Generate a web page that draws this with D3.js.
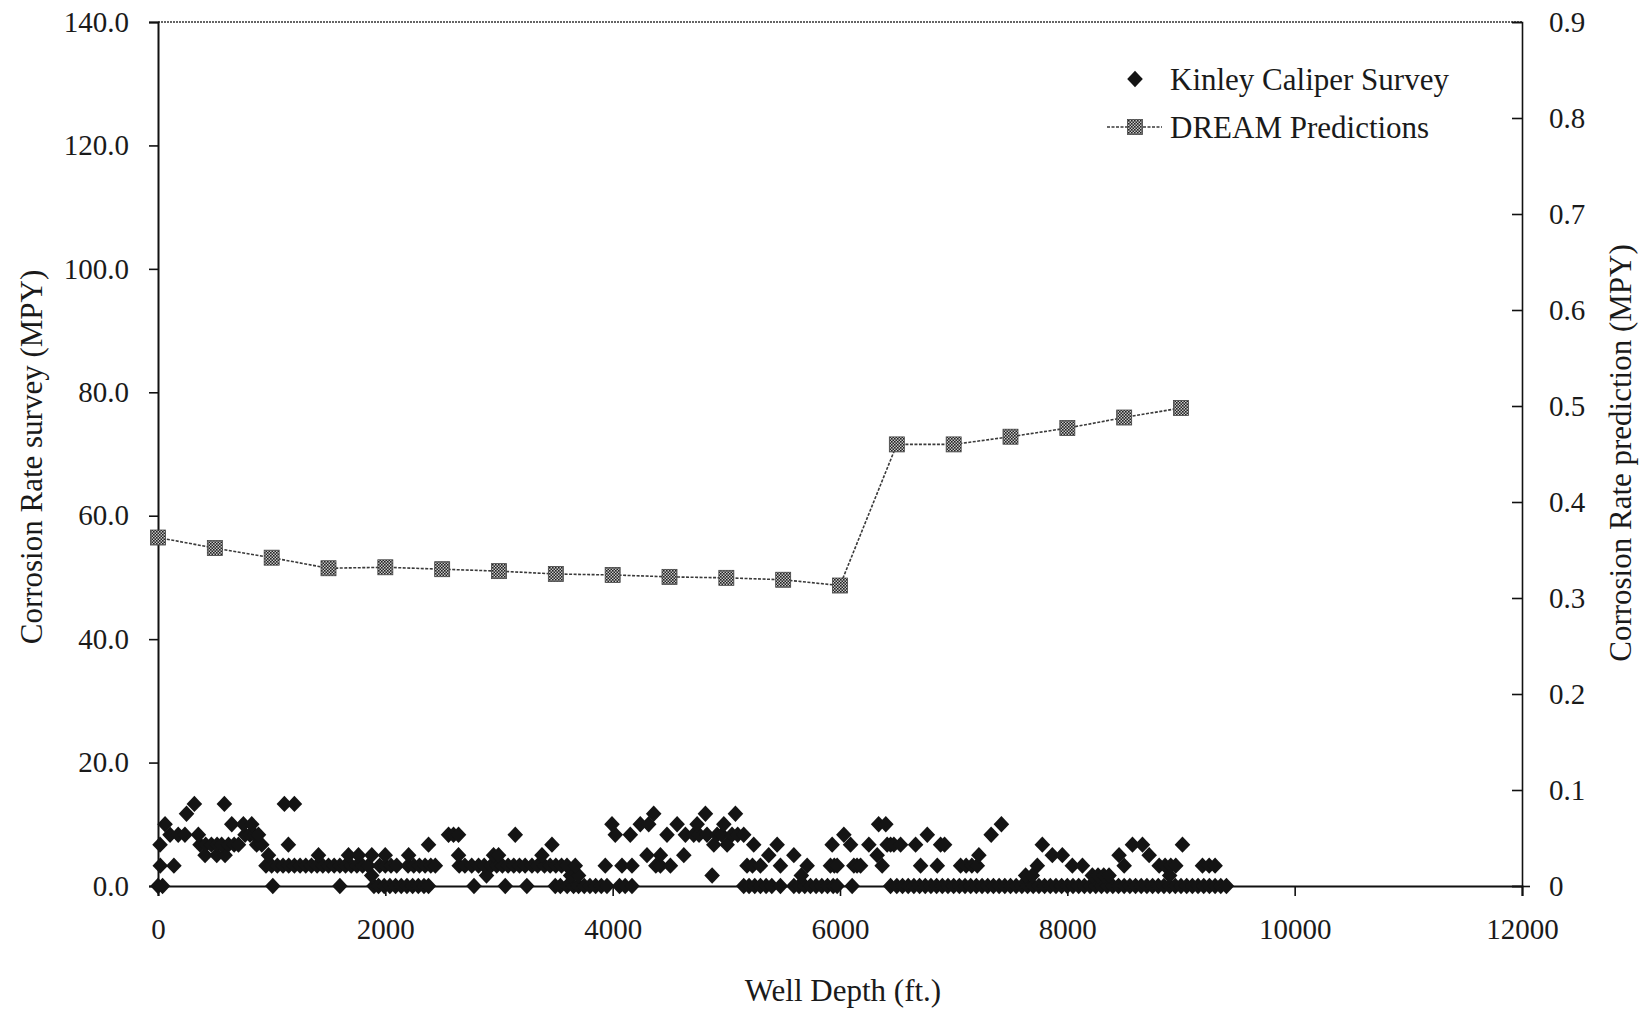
<!DOCTYPE html>
<html>
<head>
<meta charset="utf-8">
<script src="https://cdn.jsdelivr.net/npm/d3@7"></script>
<style>
  html, body { margin: 0; padding: 0; background: #fff; }
  svg { display: block; }
  text { font-family: "Liberation Serif", "Times New Roman", serif; fill: #1a1a1a; }
</style>
</head>
<body>
<svg id="chart" width="1643" height="1012"></svg>
<script>
// ---------------- DATA ----------------
const xTicks = [0, 2000, 4000, 6000, 8000, 10000, 12000];
const leftTicks = [0, 20, 40, 60, 80, 100, 120, 140];
const rightTicks = [0, 0.1, 0.2, 0.3, 0.4, 0.5, 0.6, 0.7, 0.8, 0.9];

// DREAM predictions (right axis, MPY)
const dreamDepth = [0, 500, 1000, 1500, 2000, 2500, 3000, 3500, 4000, 4500, 5000, 5500, 6000,
                    6500, 7000, 7500, 8000, 8500, 9000];
const dreamRate = [0.363, 0.352, 0.342, 0.331, 0.332, 0.330, 0.328, 0.325, 0.324, 0.322, 0.321, 0.319, 0.313,
                   0.460, 0.460, 0.468, 0.477, 0.488, 0.498];

// Kinley caliper survey (left axis, MPY) - depths grouped by reported rate level
const surveyLevels = [0.0, 1.7, 3.3, 5.0, 6.7, 8.3, 10.0, 11.7, 13.3];
const depthsAt0_0 = [0, 40, 1010, 1600, 1900, 1940, 1990, 2040, 2090, 2140, 2190, 2240, 2290, 2340, 2380,
  2780, 3055, 3245, 3495, 3540, 3600, 3656, 3700, 3750, 3800, 3850, 3900, 3950, 4060, 4110, 4170,
  5153, 5200, 5250, 5300, 5350, 5400, 5476, 5594, 5640, 5690, 5740, 5790, 5840, 5890, 5940, 5975, 6107,
  6445, 6500, 6550, 6600, 6650, 6700, 6750, 6800, 6850, 6900, 6950, 7000, 7050, 7100, 7150, 7200,
  7250, 7300, 7350, 7400, 7450, 7500, 7550, 7600, 7650, 7700, 7750, 7800, 7850, 7900, 7950, 8000,
  8050, 8100, 8150, 8200, 8250, 8300, 8350, 8400, 8450, 8500, 8550, 8600, 8650, 8700, 8750, 8800,
  8850, 8900, 8950, 9000, 9050, 9100, 9150, 9200, 9250, 9300, 9350, 9400];
const depthsAt1_7 = [1880, 2890, 3630, 3700, 4875, 5660, 7633, 7692, 8220, 8270, 8320, 8367, 8900];
const depthsAt3_3 = [20, 140, 950, 1000, 1050, 1100, 1150, 1200, 1250, 1300, 1350, 1400, 1450, 1500,
  1550, 1600, 1650, 1700, 1750, 1800, 1850, 1950, 2000, 2050, 2100, 2200, 2250, 2300, 2350, 2400, 2440,
  2650, 2700, 2760, 2820, 2870, 2930, 2980, 3030, 3080, 3130, 3180, 3230, 3290, 3340, 3400, 3450, 3500,
  3550, 3598, 3671, 3935, 4082, 4170, 4380, 4420, 4508, 5182, 5230, 5300, 5476, 5711, 5916, 5950, 5975,
  6122, 6150, 6181, 6371, 6709, 6856, 7061, 7110, 7160, 7208, 7736, 8044, 8133, 8500, 8808, 8860, 8910,
  8954, 9189, 9248, 9300];
const depthsAt5_0 = [414, 517, 590, 972, 1412, 1676, 1764, 1881, 1999, 2205, 2644, 2952, 2996, 3378,
  4302, 4420, 4626, 5373, 5594, 6327, 7222, 7868, 7956, 8455, 8720];
const depthsAt6_7 = [18, 370, 420, 470, 520, 560, 620, 670, 708, 868, 913, 1147, 2380, 3466, 4890, 5007,
  5241, 5447, 5931, 6093, 6254, 6415, 6445, 6474, 6533, 6665, 6885, 6920, 7780, 8573, 8661, 9013];
const depthsAt8_3 = [106, 178, 237, 355, 766, 810, 850, 884, 2556, 2600, 2644, 3143, 4023, 4155, 4478,
  4640, 4713, 4760, 4830, 4919, 4960, 5050, 5100, 5153, 6034, 6768, 7330];
const depthsAt10_0 = [62, 649, 751, 825, 3994, 4243, 4317, 4567, 4743, 4978, 6340, 6403, 7420];
const depthsAt11_7 = [251, 4361, 4816, 5080];
const depthsAt13_3 = [320, 584, 1112, 1200];

// ---------------- BUILD TABLES ----------------
const depthGroups = [depthsAt0_0, depthsAt1_7, depthsAt3_3, depthsAt5_0, depthsAt6_7,
                     depthsAt8_3, depthsAt10_0, depthsAt11_7, depthsAt13_3];
const survey = [];
depthGroups.forEach((arr, i) => arr.forEach(d => survey.push({ depth: d, rate: surveyLevels[i] })));
const dream = dreamDepth.map((d, i) => ({ depth: d, rate: dreamRate[i] }));

// ---------------- LAYOUT ----------------
const svg = d3.select("#chart");
const plotLeft = 158, plotRight = 1522, plotTop = 22, plotBottom = 886;

const x = d3.scaleLinear().domain([0, 12000]).range([plotLeft, plotRight]);
const yL = d3.scaleLinear().domain([0, 140]).range([plotBottom, plotTop]);
const yR = d3.scaleLinear().domain([0, 0.9]).range([plotBottom, plotTop]);

// pattern for DREAM markers
const defs = svg.append("defs");
const pat = defs.append("pattern").attr("id", "hatch").attr("patternUnits", "userSpaceOnUse")
  .attr("width", 3).attr("height", 3);
pat.append("rect").attr("width", 3).attr("height", 3).attr("fill", "#c8c8c8");
pat.append("rect").attr("width", 1.6).attr("height", 1.6).attr("fill", "#222");
pat.append("rect").attr("x", 1.5).attr("y", 1.5).attr("width", 1.5).attr("height", 1.5).attr("fill", "#222");

// top frame (dotted)
svg.append("line").attr("x1", plotLeft).attr("x2", plotRight).attr("y1", plotTop).attr("y2", plotTop)
  .attr("stroke", "#333").attr("stroke-width", 1.6).attr("stroke-dasharray", "2,1");

const tickFont = 29;

// left axis
const gL = svg.append("g").attr("transform", `translate(${plotLeft},0)`)
  .call(d3.axisLeft(yL).tickValues(leftTicks).tickFormat(d3.format(".1f")).tickSize(9).tickPadding(20));
// right axis
const gR = svg.append("g").attr("transform", `translate(${plotRight},0)`)
  .call(d3.axisRight(yR).tickValues(rightTicks).tickFormat(d => d === 0 ? "0" : d3.format(".1f")(d))
    .tickSize(-10).tickPadding(27));
// bottom axis
const gB = svg.append("g").attr("transform", `translate(0,${plotBottom})`)
  .call(d3.axisBottom(x).tickValues(xTicks).tickFormat(d3.format("d")).tickSize(10).tickPadding(22));

[gL, gR, gB].forEach(g => {
  g.select(".domain").attr("stroke", "#111").attr("stroke-width", 2);
  g.selectAll(".tick line").attr("stroke", "#111").attr("stroke-width", 1.6);
  g.selectAll(".tick text").attr("font-size", tickFont)
    .attr("font-family", "'Liberation Serif', 'Times New Roman', serif").attr("fill", "#1a1a1a");
});
gR.select(".domain").attr("stroke-width", 1.6);
gR.selectAll(".tick").filter(d => d === 0).select("line").attr("x1", 8).attr("x2", -10);

// survey diamonds
const diamond = "M0,-8.2L7.8,0L0,8.2L-7.8,0Z";
svg.append("g").selectAll("path").data(survey).join("path")
  .attr("d", diamond)
  .attr("transform", d => `translate(${x(d.depth)},${yL(d.rate)})`)
  .attr("fill", "#141414");

// DREAM line + markers
const line = d3.line().x(d => x(d.depth)).y(d => yR(d.rate));
svg.append("path").datum(dream).attr("d", line).attr("fill", "none")
  .attr("stroke", "#3a3a3a").attr("stroke-width", 1.6).attr("stroke-dasharray", "3,1.5");
svg.append("g").selectAll("rect").data(dream).join("rect")
  .attr("x", d => x(d.depth) - 7.5).attr("y", d => yR(d.rate) - 7.5)
  .attr("width", 15).attr("height", 15)
  .attr("fill", "url(#hatch)").attr("stroke", "#444").attr("stroke-width", 0.8);

// axis titles
svg.append("text").attr("transform", `translate(31,457) rotate(-90)`)
  .attr("text-anchor", "middle").attr("dominant-baseline", "central").attr("font-size", 31)
  .text("Corrosion Rate survey (MPY)");
svg.append("text").attr("transform", `translate(1620,453) rotate(-90)`)
  .attr("text-anchor", "middle").attr("dominant-baseline", "central").attr("font-size", 31)
  .text("Corrosion Rate prediction (MPY)");
svg.append("text").attr("x", 843).attr("y", 990)
  .attr("text-anchor", "middle").attr("dominant-baseline", "central").attr("font-size", 31)
  .text("Well Depth (ft.)");

// legend
const lg = svg.append("g");
lg.append("path").attr("d", diamond).attr("transform", "translate(1135,79)").attr("fill", "#141414");
lg.append("text").attr("x", 1170).attr("y", 79).attr("dominant-baseline", "central")
  .attr("font-size", 31).text("Kinley Caliper Survey");
lg.append("line").attr("x1", 1107).attr("x2", 1162).attr("y1", 127).attr("y2", 127)
  .attr("stroke", "#3a3a3a").attr("stroke-width", 1.6).attr("stroke-dasharray", "3,1.5");
lg.append("rect").attr("x", 1127.5).attr("y", 119.5).attr("width", 15).attr("height", 15)
  .attr("fill", "url(#hatch)").attr("stroke", "#444").attr("stroke-width", 0.8);
lg.append("text").attr("x", 1170).attr("y", 127).attr("dominant-baseline", "central")
  .attr("font-size", 31).text("DREAM Predictions");
</script>
</body>
</html>
